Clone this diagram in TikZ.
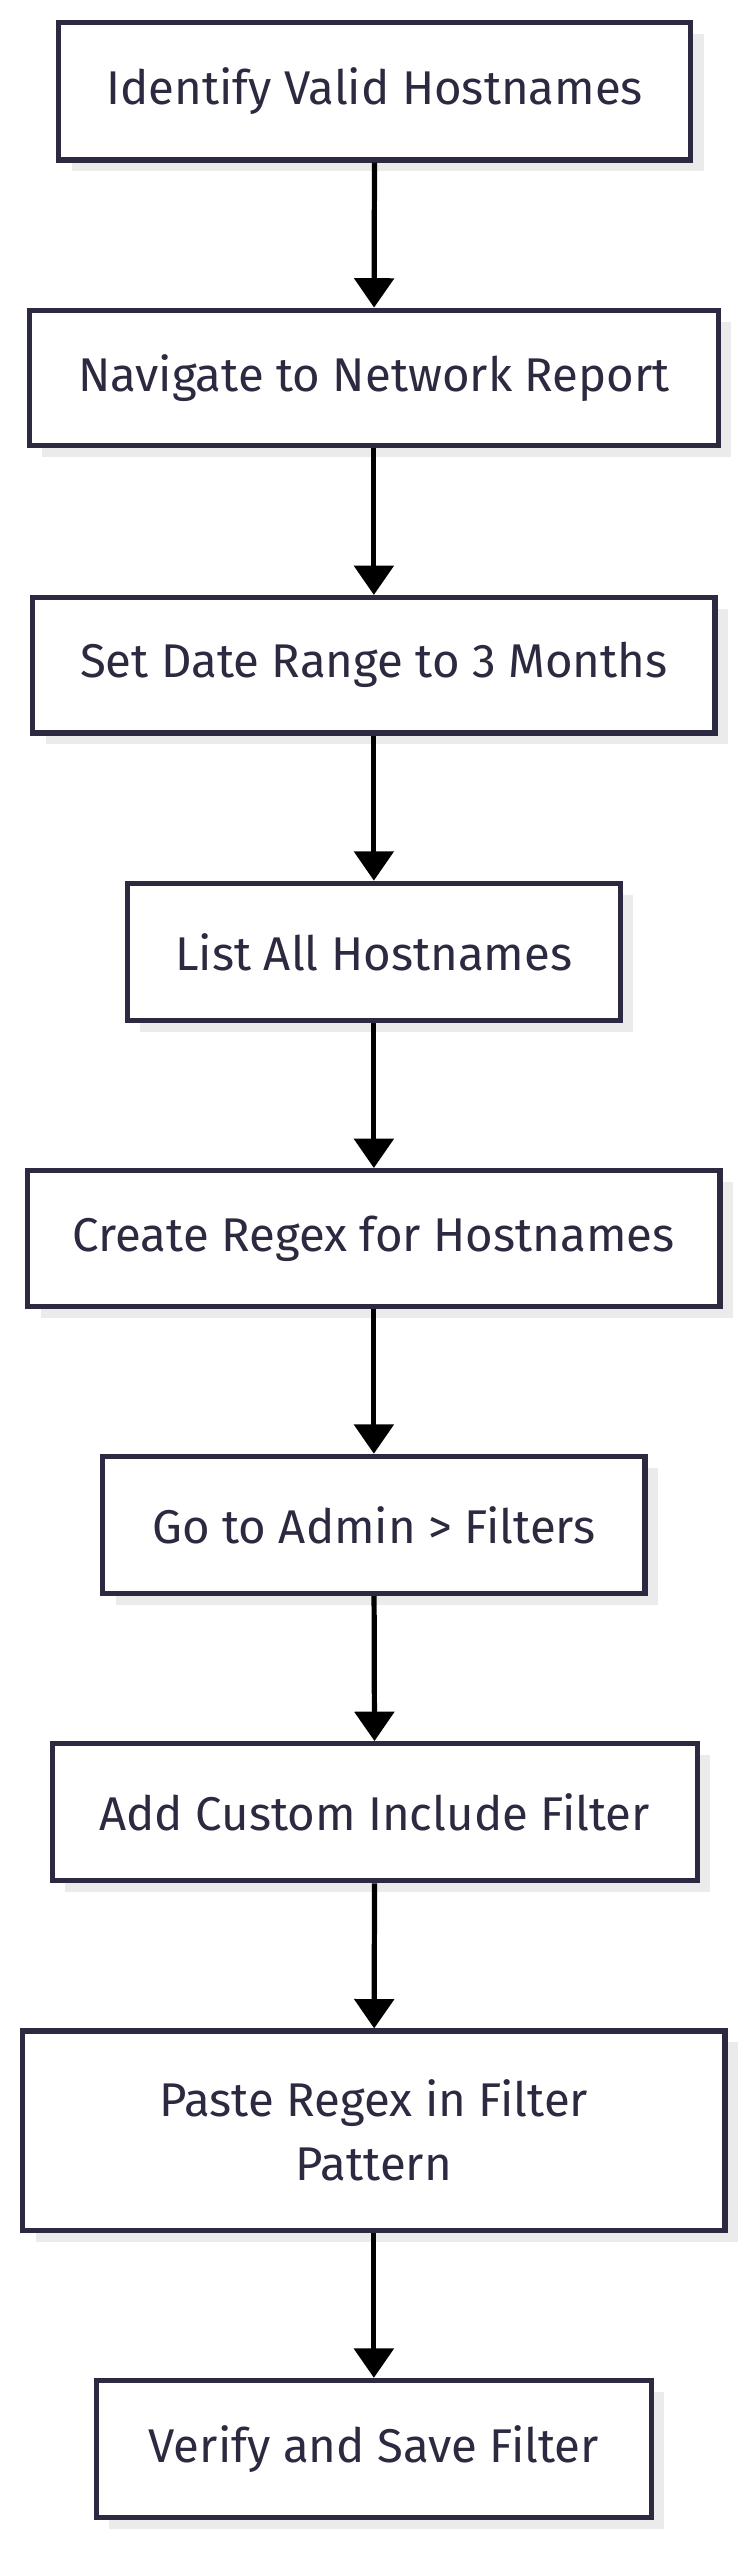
\documentclass[tikz,border=0pt]{standalone}
\usepackage{fontspec}
\setmainfont{Fira Sans}
\usetikzlibrary{arrows.meta,shadows}
\definecolor{boxline}{HTML}{2B2A40}
\definecolor{boxtext}{HTML}{2B2A40}
\tikzset{
  stepbox/.style={draw=boxline, line width=3.2pt, fill=white, text=boxtext,
    font=\fontsize{29}{39}\selectfont, align=center,
    drop shadow={shadow xshift=8pt, shadow yshift=-7pt, fill=black!8, opacity=1}},
  flow/.style={line width=3.2pt, -{Triangle[length=18pt,width=24pt]}}
}
\begin{document}
\begin{tikzpicture}[x=1pt,y=-1pt]
  \useasboundingbox (0,0) rectangle (460,1568);
  \node[stepbox, minimum width=387pt, minimum height=84pt] (hosts) at (229.5,56) {Identify Valid Hostnames};
  \node[stepbox, minimum width=422pt, minimum height=83pt] (report) at (229,231.5) {Navigate to Network Report};
  \node[stepbox, minimum width=418pt, minimum height=83pt] (range) at (229,407.5) {Set Date Range to 3 Months};
  \node[stepbox, minimum width=302pt, minimum height=84pt] (list) at (229,583) {List All Hostnames};
  \node[stepbox, minimum width=424pt, minimum height=83pt] (regex) at (229,758.5) {Create Regex for Hostnames};
  \node[stepbox, minimum width=332pt, minimum height=84pt] (admin) at (229,934) {Go to Admin > Filters};
  \node[stepbox, minimum width=395pt, minimum height=84pt] (custom) at (229.5,1110) {Add Custom Include Filter};
  \node[stepbox, minimum width=430pt, minimum height=122pt] (paste) at (229,1305) {Paste Regex in Filter\\Pattern};
  \node[stepbox, minimum width=340pt, minimum height=84pt] (save) at (229,1500) {Verify and Save Filter};
  \foreach \a/\b in {hosts/report, report/range, range/list, list/regex,
                     regex/admin, admin/custom, custom/paste, paste/save}
    \draw[flow] (\a) -- (\b);
\end{tikzpicture}
\end{document}
